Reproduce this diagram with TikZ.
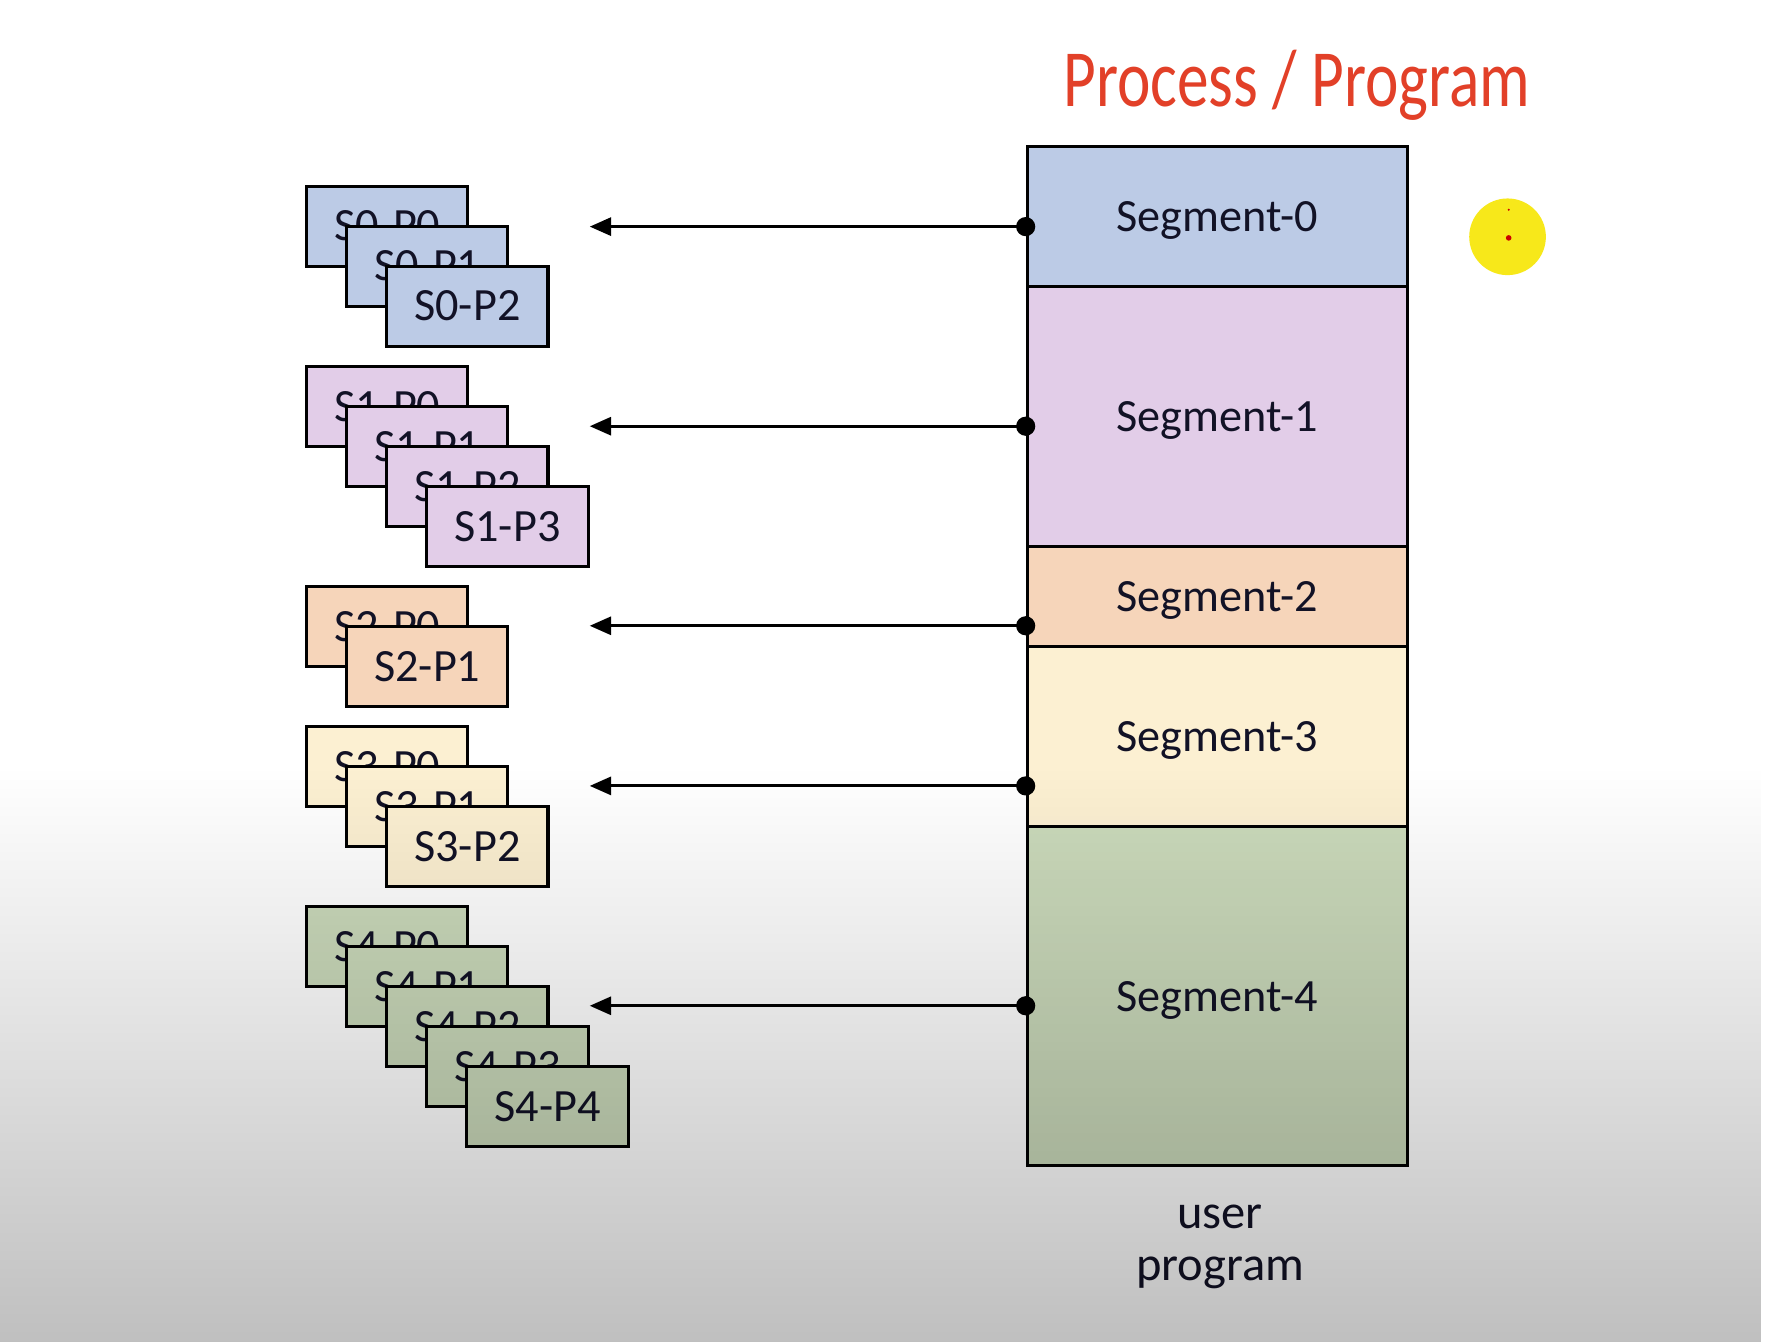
\documentclass[tikz,border=0pt]{standalone}
\usepackage{fontspec}
\usepackage{graphicx}
\setmainfont{Carlito}
\usetikzlibrary{arrows.meta,fadings}
\definecolor{cblue}{RGB}{188,203,230}
\definecolor{cpurple}{RGB}{226,205,232}
\definecolor{cpeach}{RGB}{246,213,186}
\definecolor{ccream}{RGB}{252,240,210}
\definecolor{cgreen}{RGB}{203,218,187}
\definecolor{txt}{RGB}{18,18,38}
\definecolor{hand}{RGB}{226,64,40}
\definecolor{hilite}{RGB}{247,232,26}
\tikzfading[name=fadedown, top color=transparent!100, bottom color=transparent!75]
\begin{document}
\begin{tikzpicture}[x=1pt,y=-1pt,
  seg/.style={draw=black, line width=2.7pt, minimum width=337pt, inner sep=0pt,
    text depth=0pt, font=\fontsize{41}{41}\selectfont, text=txt},
  pbox/.style={draw=black, line width=2.7pt, minimum width=143pt, minimum height=71pt,
    inner sep=0pt, font=\fontsize{41}{41}\selectfont, text=txt},
  conn/.style={line width=2.7pt, -{Triangle[length=19pt,width=16pt]}},
  dot/.style={fill=black}]
\useasboundingbox (0,0) rectangle (1568,1190);
\fill[white] (0,0) rectangle (1568,1190);

% title
\node[text=hand] (title) at (1150,76) {\scalebox{0.78}[1]{\fontsize{72}{72}\selectfont Process / Program}};
% highlight
\fill[hilite] (1337,210) circle (34);
\fill[red!80!black] (1338,211) circle (2.5);
\fill[red!80!black] (1338,186) circle (1);

% segments
\node[seg, fill=cblue,   minimum height=124pt] (seg0) at (1079.5,192)   {Segment-0};
\node[seg, fill=cpurple, minimum height=231pt] (seg1) at (1079.5,369.5) {Segment-1};
\node[seg, fill=cpeach,  minimum height=88pt]  (seg2) at (1079.5,529)   {Segment-2};
\node[seg, fill=ccream,  minimum height=160pt] (seg3) at (1079.5,653)   {Segment-3};
\node[seg, fill=cgreen,  minimum height=301pt] (seg4) at (1079.5,883.5) {Segment-4};

\node[align=center, text=txt, font=\fontsize{43}{46}\selectfont] (label) at (1082,1106) {user\\program};

% page boxes
\foreach \i in {0,...,2}
  \node[pbox, fill=cblue] (s0p\i) at ({343.5+35.5*\i},{200.5+35.5*\i}) {S0-P\i};
\foreach \i in {0,...,3}
  \node[pbox, fill=cpurple] (s1p\i) at ({343.5+35.5*\i},{360.5+35.5*\i}) {S1-P\i};
\foreach \i in {0,...,1}
  \node[pbox, fill=cpeach] (s2p\i) at ({343.5+35.5*\i},{555.5+35.5*\i}) {S2-P\i};
\foreach \i in {0,...,2}
  \node[pbox, fill=ccream] (s3p\i) at ({343.5+35.5*\i},{679.5+35.5*\i}) {S3-P\i};
\foreach \i in {0,...,4}
  \node[pbox, fill=cgreen] (s4p\i) at ({343.5+35.5*\i},{839.5+35.5*\i}) {S4-P\i};

% connectors
\coordinate (d0) at ([yshift=-9pt]seg0.west);
\coordinate (d1) at ([yshift=-8.5pt]seg1.west);
\coordinate (d2) at ([yshift=-26pt]seg2.west);
\coordinate (d3) at ([yshift=-44pt]seg3.west);
\coordinate (d4) at ([yshift=-8.5pt]seg4.west);
\foreach \k in {0,...,4} {
  \coordinate (e\k) at (523,0 |- d\k);
  \draw[conn] (d\k) -- (e\k);
  \fill[dot] (d\k) circle (8.5);
}

% video fade overlay
\fill[black, path fading=fadedown] (0,680) rectangle (1568,1190);
\end{tikzpicture}
\end{document}
